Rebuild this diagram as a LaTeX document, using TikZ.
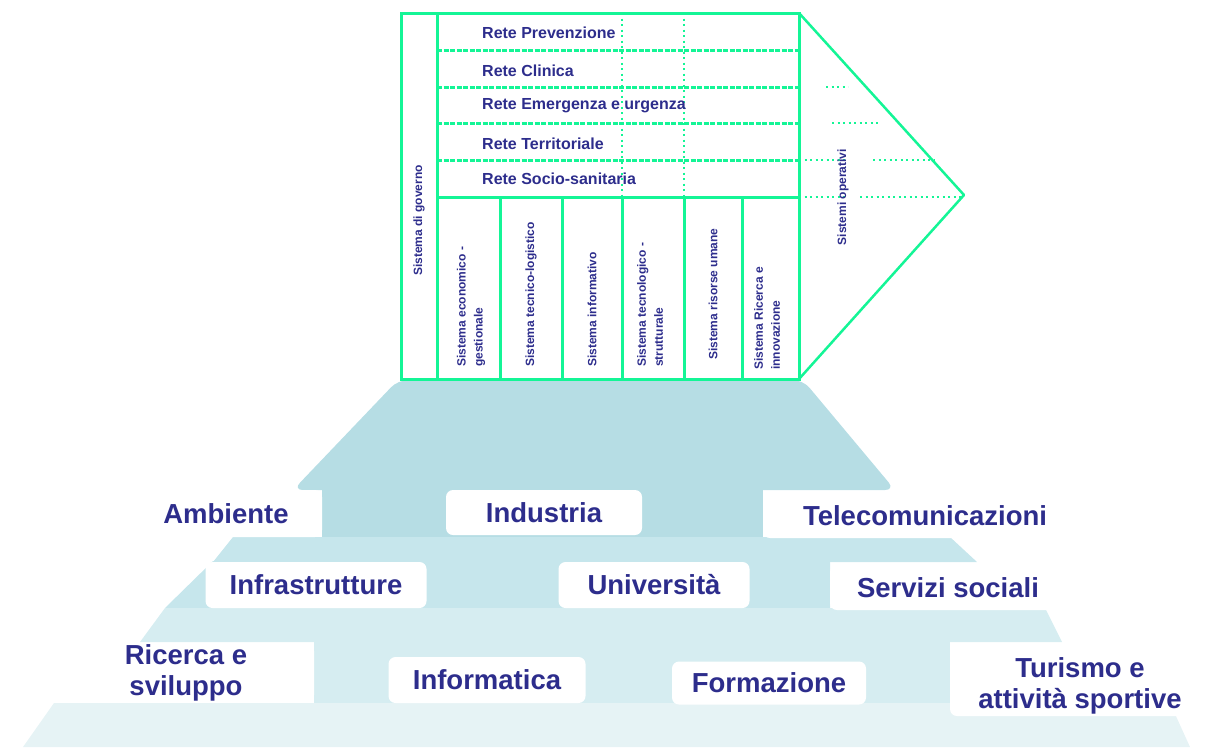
\documentclass[tikz,border=0pt]{standalone}
\usepackage{fontspec}
\setmainfont{Liberation Sans}
\usetikzlibrary{positioning}
\definecolor{g1}{HTML}{14F596}
\definecolor{b1}{HTML}{2D2D8C}
\definecolor{c1}{HTML}{B6DDE4}
\definecolor{c2}{HTML}{C6E6EC}
\definecolor{c3}{HTML}{D6EDF1}
\definecolor{c4}{HTML}{E6F3F5}
\tikzstyle{frame}=[g1,line width=3pt]
\tikzstyle{rowline}=[g1,line width=3pt,dash pattern=on 5pt off 1.5pt]
\tikzstyle{dotline}=[g1,line width=1.5pt,dash pattern=on 2pt off 3.5pt]
\tikzstyle{rete}=[text=b1,font=\bfseries\fontsize{16}{18}\selectfont,anchor=west,inner sep=0pt]
\tikzstyle{sys}=[text=b1,font=\bfseries\fontsize{12}{17}\selectfont,rotate=90,anchor=west,align=left,inner sep=0pt]
\tikzstyle{area}=[fill=white,rounded corners=7pt,text=b1,font=\bfseries\fontsize{27.5}{31}\selectfont,align=center,inner sep=0pt]

\begin{document}
\begin{tikzpicture}[x=1pt,y=-1pt]
  \useasboundingbox (0,0) rectangle (1221,748);
  % pyramid
  \fill[c1,rounded corners=10pt] (293,490) -- (398,380) -- (803,380) -- (895,490) -- cycle;
  \fill[c1] (322,489) rectangle (763,537);
  \fill[c2] (233,537) -- (950,537) -- (977,562) -- (213,562) -- cycle;
  \fill[c2] (213,561) -- (830,561) -- (830,608) -- (165,608) -- cycle;
  \fill[c3] (165,608) -- (1045,608) -- (1062,642) -- (140,642) -- cycle;
  \fill[c3] (314,641) rectangle (950,703);
  \fill[c4] (54,703) -- (1170,703) -- (1190,747) -- (23,747) -- cycle;

  \node[area,minimum width=192,minimum height=47] (ambiente) at (226,513.5) {Ambiente};
  \node[area,minimum width=196,minimum height=45] (industria) at (544,512.5) {Industria};
  \node[area,minimum width=324,minimum height=45] (telecom) at (925,515.5) {Telecomunicazioni};
  \node[area,minimum width=221,minimum height=46] (infra) at (316,585) {Infrastrutture};
  \node[area,minimum width=191,minimum height=46] (univ) at (654,585) {Università};
  \node[area,minimum width=236,minimum height=45] (servizi) at (948,587.5) {Servizi sociali};
  \node[area,minimum width=256,minimum height=58] (ricerca) at (186,673) {Ricerca e\\sviluppo};
  \node[area,minimum width=197,minimum height=46] (informatica) at (487,680) {Informatica};
  \node[area,minimum width=194,minimum height=43] (formazione) at (769,683) {Formazione};
  \node[area,minimum width=260,minimum height=60] (turismo) at (1080,686) {Turismo e\\attività sportive};

  % table
  \draw[dotline] (622,13) -- (622,197);
  \draw[dotline] (684,13) -- (684,197);
  \foreach \y in {50,87,123,160}
    \draw[rowline] (437,\y) -- (799,\y);
  \draw[frame] (437,197) -- (799,197);
  \foreach \x in {500,562,622,684,742}
    \draw[frame] (\x,197) -- (\x,379);
  \draw[frame] (437,13) -- (437,379);
  \draw[frame] (401,13) rectangle (799,379);
  \draw[frame,line width=2.5pt,line join=round] (799,13) -- (964,195) -- (799,379);
  \draw[dotline] (799,160) -- (848,160) (873,160) -- (935,160);
  \draw[dotline] (799,197) -- (846,197) (860,197) -- (964,197);
  \draw[dotline] (832,123) -- (878,123);
  \draw[dotline] (826,87) -- (848,87);

  \node[rete] (prev) at (482,33) {Rete Prevenzione};
  \node[rete] (clinica) at (482,71) {Rete Clinica};
  \node[rete] (emerg) at (482,106) {Rete Emergenza e urgenza};
  \node[rete] (terr) at (482,144) {Rete Territoriale};
  \node[rete] (socio) at (482,179) {Rete Socio-sanitaria};

  \node[sys] (governo) at (419,276) {Sistema di governo};
  \node[sys] (econ) at (471,367) {Sistema economico -\\gestionale};
  \node[sys] (tecnico) at (531,367) {Sistema tecnico-logistico};
  \node[sys] (inform) at (592,367) {Sistema informativo};
  \node[sys] (tecno) at (650,367) {Sistema tecnologico -\\strutturale};
  \node[sys] (risorse) at (713,360) {Sistema risorse umane};
  \node[sys] (ricinn) at (767,370) {Sistema Ricerca e\\innovazione};
  \node[sys,anchor=center] (operativi) at (843,197) {Sistemi operativi};
\end{tikzpicture}
\end{document}
